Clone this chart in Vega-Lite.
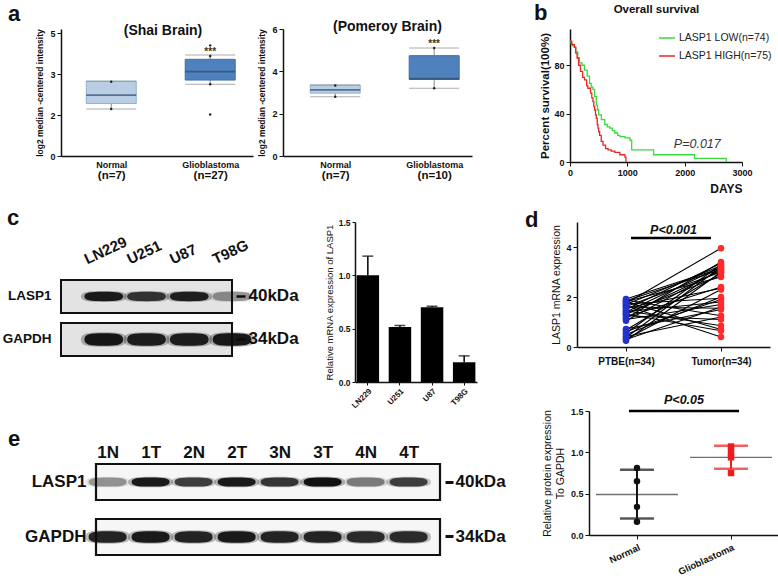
{
  "$schema": "https://vega.github.io/schema/vega-lite/v6.json",
  "background": "white",
  "padding": {"left": 2, "top": 2, "right": 0, "bottom": 0},
  "datasets": {
    "boxA1": [
      {"group": "Normal", "lower": 1.72, "q1": 1.92, "median": 2.23, "q3": 2.74, "upper": 2.74},
      {"group": "Glioblastoma", "lower": 2.63, "q1": 2.78, "median": 3.09, "q3": 3.54, "upper": 3.70}
    ],
    "dotsA1": [
      {"group": "Normal", "value": 2.72}, {"group": "Normal", "value": 1.72},
      {"group": "Glioblastoma", "value": 4.05}, {"group": "Glioblastoma", "value": 3.66},
      {"group": "Glioblastoma", "value": 2.63}, {"group": "Glioblastoma", "value": 1.52}
    ],
    "boxA2": [
      {"group": "Normal", "lower": 2.8, "q1": 2.97, "median": 3.12, "q3": 3.35, "upper": 3.35},
      {"group": "Glioblastoma", "lower": 3.2, "q1": 3.62, "median": 3.65, "q3": 4.74, "upper": 5.1}
    ],
    "dotsA2": [
      {"group": "Normal", "value": 3.33}, {"group": "Normal", "value": 2.8},
      {"group": "Glioblastoma", "value": 5.1}, {"group": "Glioblastoma", "value": 3.2}
    ],
    "km": [
      {"group": "LASP1 LOW(n=74)", "day": 0, "pct": 100}, {"group": "LASP1 LOW(n=74)", "day": 20, "pct": 98},
      {"group": "LASP1 LOW(n=74)", "day": 45, "pct": 96}, {"group": "LASP1 LOW(n=74)", "day": 76, "pct": 95},
      {"group": "LASP1 LOW(n=74)", "day": 100, "pct": 91}, {"group": "LASP1 LOW(n=74)", "day": 135, "pct": 86},
      {"group": "LASP1 LOW(n=74)", "day": 164, "pct": 82}, {"group": "LASP1 LOW(n=74)", "day": 210, "pct": 80},
      {"group": "LASP1 LOW(n=74)", "day": 253, "pct": 76}, {"group": "LASP1 LOW(n=74)", "day": 300, "pct": 71},
      {"group": "LASP1 LOW(n=74)", "day": 341, "pct": 65}, {"group": "LASP1 LOW(n=74)", "day": 370, "pct": 62},
      {"group": "LASP1 LOW(n=74)", "day": 400, "pct": 60}, {"group": "LASP1 LOW(n=74)", "day": 429, "pct": 54},
      {"group": "LASP1 LOW(n=74)", "day": 459, "pct": 47}, {"group": "LASP1 LOW(n=74)", "day": 480, "pct": 43},
      {"group": "LASP1 LOW(n=74)", "day": 500, "pct": 39}, {"group": "LASP1 LOW(n=74)", "day": 547, "pct": 35},
      {"group": "LASP1 LOW(n=74)", "day": 606, "pct": 31}, {"group": "LASP1 LOW(n=74)", "day": 650, "pct": 29},
      {"group": "LASP1 LOW(n=74)", "day": 694, "pct": 28}, {"group": "LASP1 LOW(n=74)", "day": 740, "pct": 26},
      {"group": "LASP1 LOW(n=74)", "day": 782, "pct": 24}, {"group": "LASP1 LOW(n=74)", "day": 830, "pct": 22},
      {"group": "LASP1 LOW(n=74)", "day": 870, "pct": 21}, {"group": "LASP1 LOW(n=74)", "day": 958, "pct": 20},
      {"group": "LASP1 LOW(n=74)", "day": 1047, "pct": 18}, {"group": "LASP1 LOW(n=74)", "day": 1076, "pct": 10},
      {"group": "LASP1 LOW(n=74)", "day": 1429, "pct": 10}, {"group": "LASP1 LOW(n=74)", "day": 1458, "pct": 6},
      {"group": "LASP1 LOW(n=74)", "day": 2164, "pct": 6}, {"group": "LASP1 LOW(n=74)", "day": 2170, "pct": 3},
      {"group": "LASP1 LOW(n=74)", "day": 2722, "pct": 3}, {"group": "LASP1 LOW(n=74)", "day": 2725, "pct": 0},
      {"group": "LASP1 HIGH(n=75)", "day": 0, "pct": 100}, {"group": "LASP1 HIGH(n=75)", "day": 30, "pct": 97},
      {"group": "LASP1 HIGH(n=75)", "day": 76, "pct": 95}, {"group": "LASP1 HIGH(n=75)", "day": 100, "pct": 90},
      {"group": "LASP1 HIGH(n=75)", "day": 123, "pct": 86}, {"group": "LASP1 HIGH(n=75)", "day": 150, "pct": 80},
      {"group": "LASP1 HIGH(n=75)", "day": 182, "pct": 75}, {"group": "LASP1 HIGH(n=75)", "day": 220, "pct": 70},
      {"group": "LASP1 HIGH(n=75)", "day": 253, "pct": 68}, {"group": "LASP1 HIGH(n=75)", "day": 290, "pct": 63},
      {"group": "LASP1 HIGH(n=75)", "day": 312, "pct": 61}, {"group": "LASP1 HIGH(n=75)", "day": 358, "pct": 57},
      {"group": "LASP1 HIGH(n=75)", "day": 380, "pct": 53}, {"group": "LASP1 HIGH(n=75)", "day": 400, "pct": 50},
      {"group": "LASP1 HIGH(n=75)", "day": 415, "pct": 46}, {"group": "LASP1 HIGH(n=75)", "day": 429, "pct": 43},
      {"group": "LASP1 HIGH(n=75)", "day": 445, "pct": 39}, {"group": "LASP1 HIGH(n=75)", "day": 459, "pct": 36},
      {"group": "LASP1 HIGH(n=75)", "day": 475, "pct": 31}, {"group": "LASP1 HIGH(n=75)", "day": 488, "pct": 28},
      {"group": "LASP1 HIGH(n=75)", "day": 500, "pct": 25}, {"group": "LASP1 HIGH(n=75)", "day": 517, "pct": 22},
      {"group": "LASP1 HIGH(n=75)", "day": 545, "pct": 17}, {"group": "LASP1 HIGH(n=75)", "day": 576, "pct": 14},
      {"group": "LASP1 HIGH(n=75)", "day": 620, "pct": 11}, {"group": "LASP1 HIGH(n=75)", "day": 664, "pct": 10},
      {"group": "LASP1 HIGH(n=75)", "day": 720, "pct": 9}, {"group": "LASP1 HIGH(n=75)", "day": 782, "pct": 8},
      {"group": "LASP1 HIGH(n=75)", "day": 870, "pct": 6}, {"group": "LASP1 HIGH(n=75)", "day": 958, "pct": 4},
      {"group": "LASP1 HIGH(n=75)", "day": 976, "pct": 0}
    ],
    "blotc": [
      {"lane": "LN229", "protein": "LASP1", "intensity": 0.95}, {"lane": "U251", "protein": "LASP1", "intensity": 0.8},
      {"lane": "U87", "protein": "LASP1", "intensity": 0.92}, {"lane": "T98G", "protein": "LASP1", "intensity": 0.35},
      {"lane": "LN229", "protein": "GAPDH", "intensity": 0.97}, {"lane": "U251", "protein": "GAPDH", "intensity": 0.93},
      {"lane": "U87", "protein": "GAPDH", "intensity": 0.93}, {"lane": "T98G", "protein": "GAPDH", "intensity": 0.96}
    ],
    "blote": [
      {"lane": "1N", "protein": "LASP1", "intensity": 0.35}, {"lane": "1T", "protein": "LASP1", "intensity": 0.95},
      {"lane": "2N", "protein": "LASP1", "intensity": 0.75}, {"lane": "2T", "protein": "LASP1", "intensity": 0.95},
      {"lane": "3N", "protein": "LASP1", "intensity": 0.8}, {"lane": "3T", "protein": "LASP1", "intensity": 1.0},
      {"lane": "4N", "protein": "LASP1", "intensity": 0.45}, {"lane": "4T", "protein": "LASP1", "intensity": 0.75},
      {"lane": "1N", "protein": "GAPDH", "intensity": 0.9}, {"lane": "1T", "protein": "GAPDH", "intensity": 0.95},
      {"lane": "2N", "protein": "GAPDH", "intensity": 0.9}, {"lane": "2T", "protein": "GAPDH", "intensity": 0.95},
      {"lane": "3N", "protein": "GAPDH", "intensity": 0.9}, {"lane": "3T", "protein": "GAPDH", "intensity": 0.9},
      {"lane": "4N", "protein": "GAPDH", "intensity": 0.85}, {"lane": "4T", "protein": "GAPDH", "intensity": 0.85}
    ],
    "paired": [
      {"pair": 1, "group": "PTBE(n=34)", "value": 0.25}, {"pair": 1, "group": "Tumor(n=34)", "value": 3.0},
      {"pair": 2, "group": "PTBE(n=34)", "value": 0.3}, {"pair": 2, "group": "Tumor(n=34)", "value": 1.6},
      {"pair": 3, "group": "PTBE(n=34)", "value": 0.32}, {"pair": 3, "group": "Tumor(n=34)", "value": 2.3},
      {"pair": 4, "group": "PTBE(n=34)", "value": 0.38}, {"pair": 4, "group": "Tumor(n=34)", "value": 3.2},
      {"pair": 5, "group": "PTBE(n=34)", "value": 0.42}, {"pair": 5, "group": "Tumor(n=34)", "value": 1.2},
      {"pair": 6, "group": "PTBE(n=34)", "value": 0.5}, {"pair": 6, "group": "Tumor(n=34)", "value": 2.0},
      {"pair": 7, "group": "PTBE(n=34)", "value": 0.55}, {"pair": 7, "group": "Tumor(n=34)", "value": 3.3},
      {"pair": 8, "group": "PTBE(n=34)", "value": 0.62}, {"pair": 8, "group": "Tumor(n=34)", "value": 1.9},
      {"pair": 9, "group": "PTBE(n=34)", "value": 0.68}, {"pair": 9, "group": "Tumor(n=34)", "value": 2.95},
      {"pair": 10, "group": "PTBE(n=34)", "value": 0.72}, {"pair": 10, "group": "Tumor(n=34)", "value": 1.5},
      {"pair": 11, "group": "PTBE(n=34)", "value": 1.05}, {"pair": 11, "group": "Tumor(n=34)", "value": 3.1},
      {"pair": 12, "group": "PTBE(n=34)", "value": 1.1}, {"pair": 12, "group": "Tumor(n=34)", "value": 1.7},
      {"pair": 13, "group": "PTBE(n=34)", "value": 1.15}, {"pair": 13, "group": "Tumor(n=34)", "value": 3.4},
      {"pair": 14, "group": "PTBE(n=34)", "value": 1.2}, {"pair": 14, "group": "Tumor(n=34)", "value": 2.4},
      {"pair": 15, "group": "PTBE(n=34)", "value": 1.25}, {"pair": 15, "group": "Tumor(n=34)", "value": 1.1},
      {"pair": 16, "group": "PTBE(n=34)", "value": 1.3}, {"pair": 16, "group": "Tumor(n=34)", "value": 3.05},
      {"pair": 17, "group": "PTBE(n=34)", "value": 1.32}, {"pair": 17, "group": "Tumor(n=34)", "value": 0.65},
      {"pair": 18, "group": "PTBE(n=34)", "value": 1.35}, {"pair": 18, "group": "Tumor(n=34)", "value": 2.85},
      {"pair": 19, "group": "PTBE(n=34)", "value": 1.4}, {"pair": 19, "group": "Tumor(n=34)", "value": 3.2},
      {"pair": 20, "group": "PTBE(n=34)", "value": 1.42}, {"pair": 20, "group": "Tumor(n=34)", "value": 1.8},
      {"pair": 21, "group": "PTBE(n=34)", "value": 1.45}, {"pair": 21, "group": "Tumor(n=34)", "value": 0.85},
      {"pair": 22, "group": "PTBE(n=34)", "value": 1.5}, {"pair": 22, "group": "Tumor(n=34)", "value": 3.35},
      {"pair": 23, "group": "PTBE(n=34)", "value": 1.55}, {"pair": 23, "group": "Tumor(n=34)", "value": 2.35},
      {"pair": 24, "group": "PTBE(n=34)", "value": 1.6}, {"pair": 24, "group": "Tumor(n=34)", "value": 1.55},
      {"pair": 25, "group": "PTBE(n=34)", "value": 1.62}, {"pair": 25, "group": "Tumor(n=34)", "value": 3.0},
      {"pair": 26, "group": "PTBE(n=34)", "value": 1.65}, {"pair": 26, "group": "Tumor(n=34)", "value": 0.4},
      {"pair": 27, "group": "PTBE(n=34)", "value": 1.7}, {"pair": 27, "group": "Tumor(n=34)", "value": 3.25},
      {"pair": 28, "group": "PTBE(n=34)", "value": 1.72}, {"pair": 28, "group": "Tumor(n=34)", "value": 1.95},
      {"pair": 29, "group": "PTBE(n=34)", "value": 1.75}, {"pair": 29, "group": "Tumor(n=34)", "value": 3.95},
      {"pair": 30, "group": "PTBE(n=34)", "value": 1.8}, {"pair": 30, "group": "Tumor(n=34)", "value": 0.7},
      {"pair": 31, "group": "PTBE(n=34)", "value": 1.82}, {"pair": 31, "group": "Tumor(n=34)", "value": 2.8},
      {"pair": 32, "group": "PTBE(n=34)", "value": 1.85}, {"pair": 32, "group": "Tumor(n=34)", "value": 3.1},
      {"pair": 33, "group": "PTBE(n=34)", "value": 1.88}, {"pair": 33, "group": "Tumor(n=34)", "value": 1.25},
      {"pair": 34, "group": "PTBE(n=34)", "value": 1.92}, {"pair": 34, "group": "Tumor(n=34)", "value": 3.15}
    ],
    "prot": [
      {"group": "Normal", "value": 0.81}, {"group": "Normal", "value": 0.65},
      {"group": "Normal", "value": 0.34}, {"group": "Normal", "value": 0.16},
      {"group": "Glioblastoma", "value": 1.07}, {"group": "Glioblastoma", "value": 1.0},
      {"group": "Glioblastoma", "value": 0.94}, {"group": "Glioblastoma", "value": 0.75}
    ],
    "protSum": [
      {"group": "Normal", "mean": 0.49, "lo": 0.2, "hi": 0.79},
      {"group": "Glioblastoma", "mean": 0.94, "lo": 0.8, "hi": 1.08}
    ]
  },
  "spacing": 13,
  "resolve": {"scale": {"color": "independent", "fill": "independent", "stroke": "independent", "shape": "independent", "opacity": "independent"}},
  "vconcat": [
    {
      "spacing": 61,
      "resolve": {"scale": {"color": "independent", "fill": "independent", "stroke": "independent", "shape": "independent", "opacity": "independent"}},
      "hconcat": [
        {
          "title": {"text": "a", "anchor": "start", "frame": "group", "dx": -53, "fontSize": 22, "fontWeight": "bold", "offset": -6},
          "bounds": "flush",
          "spacing": 30,
          "resolve": {"scale": {"color": "independent", "fill": "independent", "stroke": "independent", "shape": "independent", "opacity": "independent"}},
          "hconcat": [
            {
              "width": 192, "height": 127,
              "title": {"text": "(Shai Brain)", "fontSize": 14, "fontWeight": "bold", "dx": 6, "offset": -9},
              "layer": [
                {"data": {"name": "boxA1"}, "mark": {"type": "rule", "color": "#8a8a8a", "strokeWidth": 1},
                 "encoding": {
                   "x": {"field": "group", "type": "nominal", "sort": null, "scale": {"type": "point", "domain": ["Normal", "Glioblastoma"], "padding": 0.47, "align": 0.54},
                         "axis": {"orient": "bottom", "title": null, "ticks": false, "labelAngle": 0, "labelFontSize": 9, "labelPadding": 4, "domainWidth": 1.5}},
                   "y": {"field": "lower", "type": "quantitative", "scale": {"domain": [0, 4.65], "nice": false, "zero": false},
                         "axis": {"values": [0, 1.5, 3, 4.5], "format": "~g", "title": "log2 median -centered intensity", "titleFontSize": 8.5, "titlePadding": 5, "labelFontSize": 9, "labelPadding": 2, "tickSize": 4, "domainWidth": 1.5}},
                   "y2": {"field": "upper"}}},
                {"data": {"name": "boxA1"}, "mark": {"type": "bar", "width": 50, "strokeWidth": 1},
                 "encoding": {
                   "x": {"field": "group", "type": "nominal", "sort": null, "scale": {"type": "point"}, "axis": null},
                   "y": {"field": "q1", "type": "quantitative"}, "y2": {"field": "q3"},
                   "fill": {"field": "group", "type": "nominal", "scale": {"domain": ["Normal", "Glioblastoma"], "range": ["#b9cde5", "#4f81bd"]}, "legend": null},
                   "stroke": {"field": "group", "type": "nominal", "scale": {"domain": ["Normal", "Glioblastoma"], "range": ["#94afcf", "#41709f"]}, "legend": null}}},
                {"data": {"name": "boxA1"}, "mark": {"type": "tick", "size": 50, "thickness": 1, "color": "#8a8a8a"},
                 "encoding": {"x": {"field": "group", "type": "nominal", "sort": null, "scale": {"type": "point"}, "axis": null}, "y": {"field": "upper", "type": "quantitative"}}},
                {"data": {"name": "boxA1"}, "mark": {"type": "tick", "size": 50, "thickness": 1, "color": "#8a8a8a"},
                 "encoding": {"x": {"field": "group", "type": "nominal", "sort": null, "scale": {"type": "point"}, "axis": null}, "y": {"field": "lower", "type": "quantitative"}}},
                {"data": {"name": "boxA1"}, "mark": {"type": "tick", "size": 50, "thickness": 1.6, "color": "#2b4a6c"},
                 "encoding": {"x": {"field": "group", "type": "nominal", "sort": null, "scale": {"type": "point"}, "axis": null}, "y": {"field": "median", "type": "quantitative"}}},
                {"data": {"name": "dotsA1"}, "mark": {"type": "circle", "size": 6, "color": "#222", "opacity": 1},
                 "encoding": {
                   "x": {"field": "group", "type": "nominal", "sort": null, "scale": {"type": "point"},
                         "axis": {"orient": "bottom", "title": null, "ticks": false, "domain": false, "labelAngle": 0, "labelFontSize": 11.5, "offset": 10, "labelPadding": 3,
                                  "labelExpr": "datum.value == 'Normal' ? '(n=7)' : '(n=27)'"}},
                   "y": {"field": "value", "type": "quantitative"}}},
                {"data": {"values": [{}]}, "mark": {"type": "text", "text": "***", "fontSize": 10, "fontWeight": "bold", "color": "#333"},
                 "encoding": {"x": {"datum": "Glioblastoma", "axis": null}, "y": {"datum": 3.8}}}
              ],
              "resolve": {"axis": {"x": "independent"}}
            },
            {
              "width": 189, "height": 127,
              "title": {"text": "(Pomeroy Brain)", "fontSize": 14, "fontWeight": "bold", "dx": 10, "offset": -9},
              "layer": [
                {"data": {"name": "boxA2"}, "mark": {"type": "rule", "color": "#8a8a8a", "strokeWidth": 1},
                 "encoding": {
                   "x": {"field": "group", "type": "nominal", "sort": null, "scale": {"type": "point", "domain": ["Normal", "Glioblastoma"], "padding": 0.455, "align": 0.58},
                         "axis": {"orient": "bottom", "title": null, "ticks": false, "labelAngle": 0, "labelFontSize": 9, "labelPadding": 4, "domainWidth": 1.5}},
                   "y": {"field": "lower", "type": "quantitative", "scale": {"domain": [0, 6], "nice": false, "zero": false},
                         "axis": {"values": [0, 2, 4, 6], "format": "~g", "title": "log2 median -centered intensity", "titleFontSize": 8.5, "titlePadding": 5, "labelFontSize": 9, "labelPadding": 2, "tickSize": 4, "domainWidth": 1.5}},
                   "y2": {"field": "upper"}}},
                {"data": {"name": "boxA2"}, "mark": {"type": "bar", "width": 50, "strokeWidth": 1},
                 "encoding": {
                   "x": {"field": "group", "type": "nominal", "sort": null, "scale": {"type": "point"}, "axis": null},
                   "y": {"field": "q1", "type": "quantitative"}, "y2": {"field": "q3"},
                   "fill": {"field": "group", "type": "nominal", "scale": {"domain": ["Normal", "Glioblastoma"], "range": ["#b9cde5", "#4f81bd"]}, "legend": null},
                   "stroke": {"field": "group", "type": "nominal", "scale": {"domain": ["Normal", "Glioblastoma"], "range": ["#94afcf", "#41709f"]}, "legend": null}}},
                {"data": {"name": "boxA2"}, "mark": {"type": "tick", "size": 50, "thickness": 1, "color": "#8a8a8a"},
                 "encoding": {"x": {"field": "group", "type": "nominal", "sort": null, "scale": {"type": "point"}, "axis": null}, "y": {"field": "upper", "type": "quantitative"}}},
                {"data": {"name": "boxA2"}, "mark": {"type": "tick", "size": 50, "thickness": 1, "color": "#8a8a8a"},
                 "encoding": {"x": {"field": "group", "type": "nominal", "sort": null, "scale": {"type": "point"}, "axis": null}, "y": {"field": "lower", "type": "quantitative"}}},
                {"data": {"name": "boxA2"}, "mark": {"type": "tick", "size": 50, "thickness": 1.8, "color": "#2b4a6c"},
                 "encoding": {"x": {"field": "group", "type": "nominal", "sort": null, "scale": {"type": "point"}, "axis": null}, "y": {"field": "median", "type": "quantitative"}}},
                {"data": {"name": "dotsA2"}, "mark": {"type": "circle", "size": 6, "color": "#222", "opacity": 1},
                 "encoding": {
                   "x": {"field": "group", "type": "nominal", "sort": null, "scale": {"type": "point"},
                         "axis": {"orient": "bottom", "title": null, "ticks": false, "domain": false, "labelAngle": 0, "labelFontSize": 11.5, "offset": 10, "labelPadding": 3,
                                  "labelExpr": "datum.value == 'Normal' ? '(n=7)' : '(n=10)'"}},
                   "y": {"field": "value", "type": "quantitative"}}},
                {"data": {"values": [{}]}, "mark": {"type": "text", "text": "***", "fontSize": 10, "fontWeight": "bold", "color": "#333"},
                 "encoding": {"x": {"datum": "Glioblastoma", "axis": null}, "y": {"datum": 5.27}}}
              ],
              "resolve": {"axis": {"x": "independent"}}
            }
          ]
        },
        {
          "width": 172, "height": 133,
          "layer": [
            {"data": {"name": "km"}, "mark": {"type": "line", "interpolate": "step-after", "strokeWidth": 1.3},
             "encoding": {
               "x": {"field": "day", "type": "quantitative", "scale": {"domain": [0, 3000], "nice": false},
                     "axis": {"values": [0, 500, 1000, 1500, 2000, 2500, 3000], "format": "d", "title": "DAYS", "titleAnchor": "end", "titleFontSize": 12, "titlePadding": 6, "labelFontSize": 9, "labelPadding": 2, "domainWidth": 1.5, "tickSize": 4, "labelFlush": false}},
               "y": {"field": "pct", "type": "quantitative", "scale": {"domain": [0, 110], "nice": false},
                     "axis": {"values": [0, 20, 40, 60, 80, 100], "title": "Percent survival(100%)", "titleFontSize": 11.5, "titlePadding": 3, "labelFontSize": 9, "labelPadding": 2, "domainWidth": 1.5, "tickSize": 4}},
               "color": {"field": "group", "type": "nominal", "scale": {"domain": ["LASP1 LOW(n=74)", "LASP1 HIGH(n=75)"], "range": ["#3bd93b", "#e8262b"]},
                         "legend": {"title": null, "orient": "none", "legendX": 88, "legendY": 0, "symbolType": "stroke", "symbolSize": 256, "symbolStrokeWidth": 1.5, "labelFontSize": 10.5, "labelFontWeight": "normal", "labelColor": "#222", "rowPadding": 3, "labelOffset": 3}}}},
            {"data": {"values": [{}]}, "mark": {"type": "text", "text": "P=0.017", "fontSize": 12.5, "fontStyle": "italic", "color": "#333"},
             "encoding": {"x": {"datum": 2220}, "y": {"datum": 14.5}}},
            {"data": {"values": [{}]}, "mark": {"type": "text", "text": "b", "fontSize": 22, "fontWeight": "bold", "align": "left", "color": "#111"},
             "encoding": {"x": {"datum": -630}, "y": {"datum": 123}}},
            {"data": {"values": [{}]}, "mark": {"type": "text", "text": "Overall survival", "fontSize": 11.5, "fontWeight": "bold", "color": "#111"},
             "encoding": {"x": {"datum": 1508}, "y": {"datum": 126}}}
          ]
        }
      ]
    },
    {
      "spacing": 19,
      "resolve": {"scale": {"color": "independent", "fill": "independent", "stroke": "independent", "shape": "independent", "opacity": "independent"}},
      "hconcat": [
        {
          "spacing": 18,
          "resolve": {"scale": {"color": "independent", "fill": "independent", "stroke": "independent", "shape": "independent", "opacity": "independent"}},
          "vconcat": [
            {
              "bounds": "flush",
              "spacing": 123,
              "resolve": {"scale": {"color": "independent", "fill": "independent", "stroke": "independent", "shape": "independent", "opacity": "independent"}},
              "hconcat": [
                {
                  "width": 171, "height": 134,
                  "title": {"text": "c", "anchor": "start", "frame": "group", "dx": -54, "fontSize": 22, "fontWeight": "bold", "offset": -8},
                  "layer": [
                    {"data": {"values": [{"protein": "LASP1"}, {"protein": "GAPDH"}]},
                     "mark": {"type": "rect", "fill": "#e3e3e3", "stroke": "#111", "strokeWidth": 2},
                     "encoding": {
                       "y": {"field": "protein", "type": "nominal", "sort": null,
                             "scale": {"domain": ["LASP1", "GAPDH"], "paddingInner": 0.2326, "paddingOuter": 0.674, "align": 1},
                             "axis": {"orient": "left", "title": null, "ticks": false, "domain": false, "labelFontSize": 13.5, "labelPadding": 10}}}},
                    {"data": {"name": "blotc"},
                     "mark": {"type": "point", "filled": true, "color": "#111", "size": 2100, "strokeWidth": 0},
                     "encoding": {
                       "x": {"field": "lane", "type": "nominal", "sort": null,
                             "scale": {"domain": ["LN229", "U251", "U87", "T98G"], "paddingInner": 0, "paddingOuter": 0.08, "align": 1},
                             "axis": {"orient": "top", "offset": -58, "title": null, "ticks": false, "domain": false, "labelAngle": -25, "labelAlign": "left", "labelBaseline": "alphabetic", "labelPadding": 16, "labelOffset": -17, "labelFontSize": 15}},
                       "y": {"field": "protein", "type": "nominal", "sort": null,
                             "axis": {"orient": "right", "title": null, "domain": false, "ticks": true, "tickSize": 9, "tickWidth": 2.5, "offset": 4, "labelPadding": 3, "labelFontSize": 17,
                                      "labelExpr": "datum.value == 'LASP1' ? '40kDa' : '34kDa'"}},
                       "shape": {"field": "protein", "type": "nominal",
                                 "scale": {"domain": ["LASP1", "GAPDH"], "range": ["M-1,0C-1,-0.2 -0.7,-0.24 0,-0.24C0.7,-0.24 1,-0.2 1,0C1,0.2 0.7,0.24 0,0.24C-0.7,0.24 -1,0.2 -1,0Z", "M-1,0C-1,-0.28 -0.7,-0.32 0,-0.32C0.7,-0.32 1,-0.28 1,0C1,0.28 0.7,0.32 0,0.32C-0.7,0.32 -1,0.28 -1,0Z"]}, "legend": null},
                       "opacity": {"field": "intensity", "type": "quantitative", "scale": {"domain": [0, 1], "range": [0, 0.3]}, "legend": null}}},
                    {"data": {"name": "blotc"},
                     "mark": {"type": "point", "filled": true, "color": "#0a0a0a", "size": 1500, "strokeWidth": 0},
                     "encoding": {
                       "x": {"field": "lane", "type": "nominal", "sort": null},
                       "y": {"field": "protein", "type": "nominal", "sort": null, "axis": null},
                       "shape": {"field": "protein", "type": "nominal", "legend": null},
                       "opacity": {"field": "intensity", "type": "quantitative", "scale": {"domain": [0, 1], "range": [0.05, 0.95]}, "legend": null}}}
                  ],
                  "resolve": {"axis": {"y": "independent"}, "scale": {"opacity": "independent"}}
                },
                {
                  "width": 122, "height": 160,
                  "data": {"values": [
                    {"line": "LN229", "mean": 1.0, "upper": 1.18},
                    {"line": "U251", "mean": 0.515, "upper": 0.53},
                    {"line": "U87", "mean": 0.70, "upper": 0.71},
                    {"line": "T98G", "mean": 0.185, "upper": 0.245}
                  ]},
                  "layer": [
                    {"mark": {"type": "bar", "color": "#000"},
                     "encoding": {
                       "x": {"field": "line", "type": "nominal", "sort": null, "scale": {"domain": ["LN229", "U251", "U87", "T98G"], "paddingInner": 0.3, "paddingOuter": 0.05},
                             "axis": {"title": null, "labelAngle": -45, "labelFontSize": 8, "tickSize": 3, "domainWidth": 1.5, "labelPadding": 2}},
                       "y": {"field": "mean", "type": "quantitative", "scale": {"domain": [0, 1.5], "nice": false},
                             "axis": {"values": [0, 0.5, 1, 1.5], "format": ".1f", "title": "Relative mRNA expression of LASP1", "titleFontSize": 9.5, "titleFontWeight": "normal", "titlePadding": 4, "labelFontSize": 8.5, "labelPadding": 2, "tickSize": 3, "domainWidth": 1.5}}}},
                    {"mark": {"type": "rule", "color": "#000", "strokeWidth": 1.5},
                     "encoding": {"x": {"field": "line", "type": "nominal", "sort": null}, "y": {"field": "mean", "type": "quantitative"}, "y2": {"field": "upper"}}},
                    {"mark": {"type": "tick", "size": 11, "thickness": 1.5, "color": "#000"},
                     "encoding": {"x": {"field": "line", "type": "nominal", "sort": null}, "y": {"field": "upper", "type": "quantitative"}}}
                  ]
                }
              ]
            },
            {
              "bounds": "flush",
              "spacing": 20,
              "resolve": {"scale": {"color": "independent", "fill": "independent", "stroke": "independent", "shape": "independent", "opacity": "independent"}},
              "hconcat": [
                {"width": 15, "height": 1, "data": {"values": []}, "mark": "point"},
                {
                  "width": 344, "height": 91,
                  "title": {"text": "e", "anchor": "start", "frame": "group", "dx": -88, "fontSize": 22, "fontWeight": "bold", "offset": -8},
                  "layer": [
                    {"data": {"values": [{"protein": "LASP1"}, {"protein": "GAPDH"}]},
                     "mark": {"type": "rect", "fill": "#f6f6f6", "stroke": "#111", "strokeWidth": 2.2},
                     "encoding": {
                       "y": {"field": "protein", "type": "nominal", "sort": null,
                             "scale": {"domain": ["LASP1", "GAPDH"], "paddingInner": 0.345, "paddingOuter": 0},
                             "axis": {"orient": "left", "title": null, "ticks": false, "domain": false, "labelFontSize": 17, "labelPadding": 10}}}},
                    {"data": {"name": "blote"},
                     "mark": {"type": "point", "filled": true, "color": "#111", "size": 2000, "strokeWidth": 0},
                     "encoding": {
                       "x": {"field": "lane", "type": "nominal", "sort": null,
                             "scale": {"domain": ["1N", "1T", "2N", "2T", "3N", "3T", "4N", "4T"], "paddingInner": 0, "paddingOuter": 0.145, "align": 0.27},
                             "axis": {"orient": "top", "title": null, "ticks": false, "domain": false, "labelAngle": 0, "labelPadding": 3, "labelFontSize": 17}},
                       "y": {"field": "protein", "type": "nominal", "sort": null,
                             "axis": {"orient": "right", "title": null, "domain": false, "ticks": true, "tickSize": 8, "tickWidth": 3, "offset": 5, "labelPadding": 2, "labelFontSize": 17,
                                      "labelExpr": "datum.value == 'LASP1' ? '40kDa' : '34kDa'"}},
                       "shape": {"field": "protein", "type": "nominal",
                                 "scale": {"domain": ["LASP1", "GAPDH"], "range": ["M-1,0C-1,-0.2 -0.7,-0.24 0,-0.24C0.7,-0.24 1,-0.2 1,0C1,0.2 0.7,0.24 0,0.24C-0.7,0.24 -1,0.2 -1,0Z", "M-1,0C-1,-0.26 -0.7,-0.3 0,-0.3C0.7,-0.3 1,-0.26 1,0C1,0.26 0.7,0.3 0,0.3C-0.7,0.3 -1,0.26 -1,0Z"]}, "legend": null},
                       "opacity": {"field": "intensity", "type": "quantitative", "scale": {"domain": [0, 1], "range": [0, 0.3]}, "legend": null}}},
                    {"data": {"name": "blote"},
                     "mark": {"type": "point", "filled": true, "color": "#0a0a0a", "size": 1450, "strokeWidth": 0},
                     "encoding": {
                       "x": {"field": "lane", "type": "nominal", "sort": null},
                       "y": {"field": "protein", "type": "nominal", "sort": null, "axis": null},
                       "shape": {"field": "protein", "type": "nominal", "legend": null},
                       "opacity": {"field": "intensity", "type": "quantitative", "scale": {"domain": [0, 1], "range": [0.05, 0.95]}, "legend": null}}}
                  ],
                  "resolve": {"axis": {"y": "independent"}, "scale": {"opacity": "independent"}}
                }
              ]
            }
          ]
        },
        {
          "spacing": 28,
          "resolve": {"scale": {"color": "independent", "fill": "independent", "stroke": "independent", "shape": "independent", "opacity": "independent"}},
          "vconcat": [
            {
              "width": 193, "height": 125,
              "title": {"text": "d", "anchor": "start", "frame": "group", "dx": -52, "fontSize": 22, "fontWeight": "bold", "offset": -10},
              "layer": [
                {"data": {"name": "paired"}, "mark": {"type": "line", "color": "#000", "strokeWidth": 1.1},
                 "encoding": {
                   "x": {"field": "group", "type": "nominal", "sort": null, "scale": {"type": "point", "domain": ["PTBE(n=34)", "Tumor(n=34)"], "padding": 0.516},
                         "axis": {"title": null, "labelAngle": 0, "labelFontSize": 10, "tickSize": 4, "domainWidth": 1.5, "labelPadding": 5}},
                   "y": {"field": "value", "type": "quantitative", "scale": {"domain": [0, 5], "nice": false},
                         "axis": {"values": [0, 1, 2, 3, 4, 5], "title": "LASP1 mRNA expression", "titleFontSize": 10.5, "titleFontWeight": "normal", "titlePadding": 4, "labelFontSize": 9, "labelPadding": 2, "tickSize": 4, "domainWidth": 1.5}},
                   "detail": {"field": "pair", "type": "nominal"}}},
                {"data": {"name": "paired"}, "mark": {"type": "circle", "size": 42, "opacity": 1},
                 "encoding": {
                   "x": {"field": "group", "type": "nominal", "sort": null},
                   "y": {"field": "value", "type": "quantitative"},
                   "color": {"field": "group", "type": "nominal", "scale": {"domain": ["PTBE(n=34)", "Tumor(n=34)"], "range": ["#2233cc", "#ff2a2a"]}, "legend": null}}},
                {"data": {"values": [{}]}, "mark": {"type": "rule", "strokeWidth": 2.5, "color": "#000", "xOffset": 5, "x2Offset": -10},
                 "encoding": {"x": {"datum": "PTBE(n=34)"}, "x2": {"datum": "Tumor(n=34)"}, "y": {"datum": 4.36}}},
                {"data": {"values": [{}]}, "mark": {"type": "text", "text": "P<0.001", "fontSize": 12.5, "fontWeight": "bold", "fontStyle": "italic", "color": "#111"},
                 "encoding": {"y": {"datum": 4.68}}}
              ]
            },
            {
              "bounds": "flush",
              "spacing": 10,
              "resolve": {"scale": {"color": "independent", "fill": "independent", "stroke": "independent", "shape": "independent", "opacity": "independent"}},
              "hconcat": [
                {"width": 2, "height": 1, "data": {"values": []}, "mark": "point"},
                {
                  "width": 190, "height": 124,
                  "layer": [
                    {"data": {"name": "protSum"}, "mark": {"type": "tick", "size": 82, "thickness": 1.3, "color": "#333"},
                     "encoding": {
                       "x": {"field": "group", "type": "nominal", "sort": null, "scale": {"type": "point", "domain": ["Normal", "Glioblastoma"], "padding": 0.51},
                             "axis": {"title": null, "labelAngle": -25, "labelAlign": "right", "labelBaseline": "top", "labelFontSize": 9.5, "tickSize": 4, "domainWidth": 1.5, "labelPadding": 3}},
                       "y": {"field": "mean", "type": "quantitative", "scale": {"domain": [0, 1.5], "nice": false},
                             "axis": {"values": [0, 0.5, 1, 1.5], "format": ".1f", "title": ["Relative protein expression", "To GAPDH"], "titleFontSize": 10.5, "titleFontWeight": "normal", "titlePadding": 5, "labelFontSize": 9, "labelPadding": 2, "tickSize": 4, "domainWidth": 1.5}}}},
                    {"data": {"name": "protSum"}, "mark": {"type": "rule", "strokeWidth": 2},
                     "encoding": {
                       "x": {"field": "group", "type": "nominal", "sort": null},
                       "y": {"field": "lo", "type": "quantitative"}, "y2": {"field": "hi"},
                       "color": {"field": "group", "type": "nominal", "scale": {"domain": ["Normal", "Glioblastoma"], "range": ["#111111", "#ee1c1c"]}, "legend": null}}},
                    {"data": {"name": "protSum"}, "mark": {"type": "tick", "size": 34, "thickness": 2.5},
                     "encoding": {
                       "x": {"field": "group", "type": "nominal", "sort": null},
                       "y": {"field": "lo", "type": "quantitative"},
                       "color": {"field": "group", "type": "nominal", "legend": null}}},
                    {"data": {"name": "protSum"}, "mark": {"type": "tick", "size": 34, "thickness": 2.5},
                     "encoding": {
                       "x": {"field": "group", "type": "nominal", "sort": null},
                       "y": {"field": "hi", "type": "quantitative"},
                       "color": {"field": "group", "type": "nominal", "legend": null}}},
                    {"data": {"name": "prot"}, "mark": {"type": "point", "filled": true, "size": 42, "opacity": 1},
                     "encoding": {
                       "x": {"field": "group", "type": "nominal", "sort": null},
                       "y": {"field": "value", "type": "quantitative"},
                       "color": {"field": "group", "type": "nominal", "legend": null},
                       "shape": {"field": "group", "type": "nominal", "scale": {"domain": ["Normal", "Glioblastoma"], "range": ["circle", "square"]}, "legend": null}}},
                    {"data": {"values": [{}]}, "mark": {"type": "rule", "strokeWidth": 2.5, "color": "#000", "xOffset": -8, "x2Offset": 8},
                     "encoding": {"x": {"datum": "Normal"}, "x2": {"datum": "Glioblastoma"}, "y": {"datum": 1.5}}},
                    {"data": {"values": [{}]}, "mark": {"type": "text", "text": "P<0.05", "fontSize": 12.5, "fontWeight": "bold", "fontStyle": "italic", "color": "#111"},
                     "encoding": {"y": {"datum": 1.63}}}
                  ]
                }
              ]
            }
          ]
        }
      ]
    }
  ],
  "config": {
    "font": "Liberation Sans",
    "view": {"stroke": null},
    "axis": {"labelColor": "#111", "titleColor": "#111", "domainColor": "#111", "tickColor": "#111", "grid": false, "labelFontWeight": "bold", "titleFontWeight": "bold", "labelFont": "Liberation Sans", "titleFont": "Liberation Sans"},
    "title": {"color": "#111", "font": "Liberation Sans"},
    "legend": {"labelFont": "Liberation Sans"}
  }
}
